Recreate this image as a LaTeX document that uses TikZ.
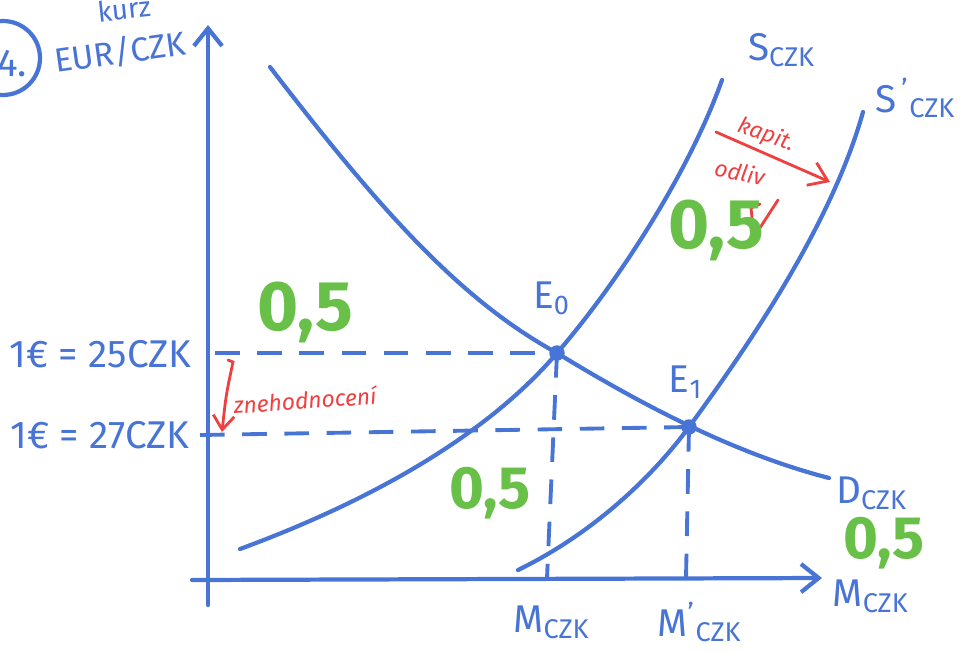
\documentclass[tikz,border=0pt]{standalone}
\usepackage{fontspec}
\setmainfont{Fira Sans}
\usetikzlibrary{arrows.meta}
\definecolor{pen}{RGB}{72,116,214}
\definecolor{grn}{RGB}{104,192,72}
\definecolor{rd}{RGB}{238,64,64}
\tikzset{
  ink/.style={draw=pen, line width=1.2pt, line cap=round},
  axis/.style={ink, -{Straight Barb[length=5pt,width=8pt]}},
  guide/.style={draw=pen, line width=1.1pt, dash pattern=on 7pt off 5pt},
  lbl/.style={text=pen, font=\fontsize{11}{13}\selectfont, inner sep=0pt},
  big/.style={text=grn, font=\fontsize{20}{22}\selectfont\bfseries, inner sep=0pt},
  note/.style={text=rd, font=\fontsize{6.5}{7}\selectfont\itshape, inner sep=0pt},
  redline/.style={draw=rd, line width=0.8pt, line cap=round}
}
\begin{document}
\begin{tikzpicture}[x=0.01cm,y=-0.01cm]
\useasboundingbox (0,0) rectangle (961,651);
% circled number
\node[ink, circle, minimum size=74*0.01cm, inner sep=0pt] (num) at (3,58) {};
\node[lbl] (numt) at (12,64) {4.};
% axes
\coordinate (O) at (208,580);
\coordinate (ybot) at (208,605);
\coordinate (ytop) at (208,25);
\coordinate (xl) at (192,580);
\coordinate (xr) at (822,578);
\draw[axis] (ybot) -- (ytop);
\draw[axis] (xl) -- (xr);
\node[lbl, font=\fontsize{8}{9}\selectfont, rotate=6] (kurz) at (124,9) {kurz};
\node[lbl, font=\fontsize{9.5}{11}\selectfont, rotate=8] (eurczk) at (120,52) {EUR/CZK};
\node[lbl, anchor=west] (mczk) at (832,596) {M\textsubscript{CZK}};
% equilibrium points
\coordinate (E0) at (557,353);
\coordinate (E1) at (689,427);
\fill[pen] (E0) circle (2.2pt);
\fill[pen] (E1) circle (2.2pt);
\node[lbl] (e0) at (552,298) {E\textsubscript{0}};
\node[lbl] (e1) at (686,382) {E\textsubscript{1}};
% curves
\coordinate (d0) at (270,67);
\coordinate (d1) at (829,478);
\coordinate (s0) at (240,549);
\coordinate (s1) at (722,80);
\coordinate (t0) at (518,570);
\coordinate (t1) at (863,112);
\draw[ink] (d0) .. controls (380,210) and (460,300) .. (E0) .. controls (650,410) and (740,455) .. (d1);
\draw[ink] (s0) .. controls (400,490) and (500,420) .. (E0) .. controls (620,280) and (690,170) .. (s1);
\draw[ink] (t0) .. controls (590,535) and (650,480) .. (E1) .. controls (740,357) and (830,230) .. (t1);
\node[lbl] (scz) at (782,50) {S\textsubscript{CZK}};
\node[lbl] (sczp) at (916,98) {S\textsuperscript{\,'}\textsubscript{CZK}};
\node[lbl] (dcz) at (872,493) {D\textsubscript{CZK}};
% dashed guides
\coordinate (p25) at (215,353);
\coordinate (p27) at (200,435);
\coordinate (m0) at (547,578);
\coordinate (m1) at (686,578);
\draw[guide] (p25) -- (E0);
\draw[guide] (p27) -- (E1);
\draw[guide] (E0) -- (m0);
\draw[guide] (E1) -- (m1);
\node[lbl, anchor=east] (r25) at (192,354) {1€ = 25CZK};
\node[lbl, anchor=east] (r27) at (190,435) {1€ = 27CZK};
\node[lbl] (mc0) at (552,622) {M\textsubscript{CZK}};
\node[lbl] (mc1) at (700,622) {M\textsuperscript{'}\textsubscript{CZK}};
% red notes
\coordinate (zn1) at (228,360);
\coordinate (zn2) at (222,432);
\draw[redline, -{Straight Barb[length=4pt,width=6pt]}] (zn1) -- (233,362) .. controls (226,395) .. (zn2);
\node[note, rotate=4] (zn) at (305,400) {znehodnocení};
\coordinate (k1) at (716,132);
\coordinate (k2) at (830,182);
\draw[redline, -{Straight Barb[length=5pt,width=7pt]}] (k1) -- (k2);
\node[note, rotate=-20] (kap) at (766,135) {kapit.};
\node[note, rotate=-12] (odl) at (740,172) {odliv};
\draw[redline] (760,204) -- (751,208) -- (754,237) -- (778,200);
% green marks
\node[big] (g1) at (305,312) {0,5};
\node[big] (g2) at (716,230) {0,5};
\node[big, font=\fontsize{17}{19}\selectfont\bfseries] (g3) at (490,493) {0,5};
\node[big, font=\fontsize{17}{19}\selectfont\bfseries] (g4) at (884,543) {0,5};
\end{tikzpicture}
\end{document}
